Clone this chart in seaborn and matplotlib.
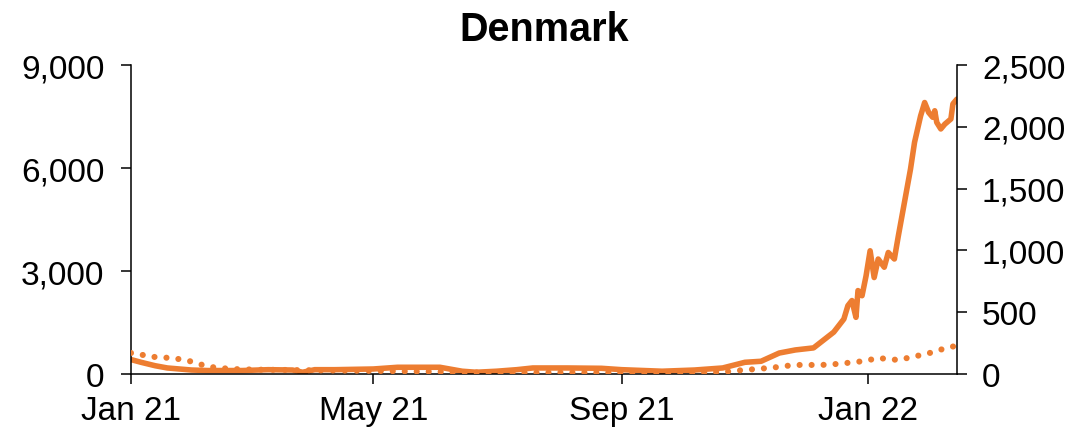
import matplotlib
matplotlib.use("Agg")
import matplotlib.pyplot as plt
import matplotlib.dates as mdates
import matplotlib.ticker as mticker
import seaborn as sns
import pandas as pd

# ---- data ----
title = "Denmark"

cases_dates = [
    "2021-01-01", "2021-01-06", "2021-01-13", "2021-01-19", "2021-01-31", "2021-02-08",
    "2021-02-25", "2021-03-10", "2021-03-22", "2021-03-27", "2021-04-02", "2021-04-12",
    "2021-05-01", "2021-05-13", "2021-06-03", "2021-06-14", "2021-06-21", "2021-07-01",
    "2021-07-11", "2021-07-19", "2021-08-05", "2021-08-22", "2021-09-01", "2021-09-21",
    "2021-10-07", "2021-10-21", "2021-11-01", "2021-11-09", "2021-11-18", "2021-11-26",
    "2021-12-05", "2021-12-15", "2021-12-20", "2021-12-22", "2021-12-24", "2021-12-26",
    "2021-12-27", "2021-12-29", "2021-12-31", "2022-01-02", "2022-01-04", "2022-01-06",
    "2022-01-09", "2022-01-11", "2022-01-14", "2022-01-16", "2022-01-19", "2022-01-22",
    "2022-01-24", "2022-01-27", "2022-01-29", "2022-01-31", "2022-02-02", "2022-02-03",
    "2022-02-04", "2022-02-06", "2022-02-08", "2022-02-11", "2022-02-12", "2022-02-14",
]
cases_values = [
    420, 340, 240, 175, 115, 100,
    100, 125, 115, 50, 125, 125,
    145, 195, 195, 80, 50, 80,
    125, 175, 175, 165, 125, 80,
    115, 175, 340, 370, 610, 700,
    760, 1220, 1600, 1990, 2140, 1650,
    2430, 2280, 2860, 3590, 2810, 3350,
    3110, 3540, 3350, 4030, 5000, 5970,
    6750, 7520, 7910, 7620, 7480, 7670,
    7330, 7140, 7280, 7430, 7870, 8010,
]

second_dates = [
    "2021-01-01", "2021-01-05", "2021-01-10", "2021-01-16", "2021-01-22", "2021-01-28",
    "2021-02-02", "2021-02-08", "2021-02-14", "2021-02-20", "2021-02-25", "2021-03-04",
    "2021-04-01", "2021-05-01", "2021-06-01", "2021-07-01", "2021-08-01", "2021-09-01",
    "2021-10-01", "2021-10-15", "2021-10-26", "2021-10-31", "2021-11-07", "2021-11-13",
    "2021-11-19", "2021-11-25", "2021-12-01", "2021-12-07", "2021-12-13", "2021-12-19",
    "2021-12-25", "2021-12-31", "2022-01-06", "2022-01-11", "2022-01-16", "2022-01-22",
    "2022-01-28", "2022-02-03", "2022-02-08", "2022-02-14",
]
second_values = [
    170, 162, 140, 135, 127, 113,
    91, 59, 49, 40, 38, 35,
    30, 25, 18, 10, 12, 12,
    10, 14, 22, 32, 40, 49,
    59, 73, 73, 73, 75, 86,
    94, 108, 129, 121, 113, 135,
    156, 180, 208, 229,
]

left_ticks = [0, 3000, 6000, 9000]
right_ticks = [0, 500, 1000, 1500, 2000, 2500]
x_start, x_end = "2021-01-01", "2022-02-14"

# ---- styling ----
sns.set_style("white")
plt.rcParams["font.family"] = ["Liberation Sans", "DejaVu Sans"]
plt.rcParams["text.color"] = "black"
orange = "#ED7D31"

df1 = pd.DataFrame({"date": pd.to_datetime(cases_dates), "value": cases_values})
df2 = pd.DataFrame({"date": pd.to_datetime(second_dates), "value": second_values})

fig = plt.figure(figsize=(10.84, 4.35), dpi=100)
ax = fig.add_axes([0.1208, 0.138, 0.7620, 0.710])
ax2 = ax.twinx()

sns.lineplot(data=df1, x="date", y="value", ax=ax, color=orange, linewidth=4.0,
             solid_capstyle="round", solid_joinstyle="round")
sns.lineplot(data=df2, x="date", y="value", ax=ax2, color=orange, linewidth=4.4,
             linestyle=(0, (0.01, 1.95)), dash_capstyle="round")

ax.set_xlim(pd.Timestamp(x_start), pd.Timestamp(x_end))
ax.set_ylim(left_ticks[0], left_ticks[-1])
ax2.set_ylim(right_ticks[0], right_ticks[-1])
ax.set_yticks(left_ticks)
ax2.set_yticks(right_ticks)
fmt = mticker.FuncFormatter(lambda v, p: f"{int(v):,}")
ax.yaxis.set_major_formatter(fmt)
ax2.yaxis.set_major_formatter(fmt)

ax.xaxis.set_major_locator(mdates.MonthLocator(bymonth=[1, 5, 9]))
ax.xaxis.set_major_formatter(mdates.DateFormatter("%b %y"))

for a in (ax, ax2):
    a.set_xlabel("")
    a.set_ylabel("")
    a.spines["top"].set_visible(False)
    for s in ("left", "right", "bottom"):
        a.spines[s].set_color("black")
        a.spines[s].set_linewidth(1.1)
    a.tick_params(axis="both", which="major", labelsize=24, length=7, width=1.1,
                  color="black", labelcolor="black", direction="out")
ax.tick_params(axis="y", left=True, right=False, pad=12)
ax.tick_params(axis="x", bottom=True, pad=8)
ax2.tick_params(axis="y", right=True, left=False, pad=11)
ax.spines["right"].set_visible(False)
ax2.spines["left"].set_visible(False)
ax2.spines["bottom"].set_visible(False)

ax.set_title(title, fontsize=28.5, fontweight="bold", pad=18, color="black")

fig.savefig("out.png", dpi=100)
